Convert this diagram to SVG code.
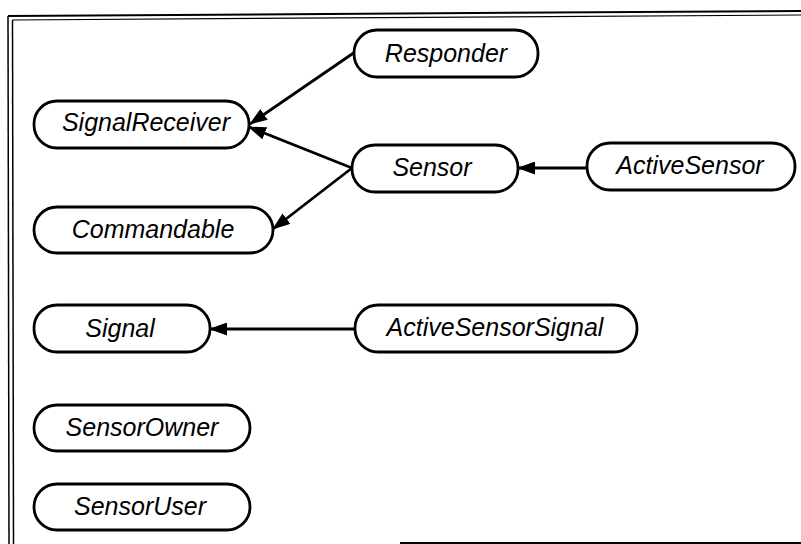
<svg xmlns="http://www.w3.org/2000/svg" width="801" height="544" viewBox="0 0 801 544">
<style>
.n{fill:#fff;stroke:#000;stroke-width:2.8}
.t{font-family:"Liberation Sans",Arial,sans-serif;font-style:italic;font-size:25px;fill:#000;text-anchor:middle}
.c{stroke:#000;stroke-width:2.8;fill:none}
.f{stroke:#000;fill:none}
</style>
<defs>
<marker id="a" viewBox="0 0 18 13" refX="17" refY="6.5" markerWidth="18" markerHeight="13" markerUnits="userSpaceOnUse" orient="auto">
<path d="M0,0 L18,6.5 L0,13 Z" fill="#000"/>
</marker>
</defs>
<rect width="801" height="544" fill="#fff"/>
<g id="frame">
<path class="f" stroke-width="2" d="M8,16 L801,11"/>
<path class="f" stroke-width="1.2" d="M12.5,20 L801,15"/>
<path class="f" stroke-width="1.5" d="M8,16 L9,544"/>
<path class="f" stroke-width="1.5" d="M12.5,20 L13.5,544"/>
<path class="f" stroke-width="2" d="M400,543 L801,543"/>
</g>
<g id="connectors">
<path class="c" marker-end="url(#a)" d="M355,52 L250,124"/>
<path class="c" marker-end="url(#a)" d="M352,168 L249,127"/>
<path class="c" marker-end="url(#a)" d="M352,168 L273,229"/>
<path class="c" marker-end="url(#a)" d="M587,168 L518,168"/>
<path class="c" marker-end="url(#a)" d="M355,329 L210,329"/>
</g>
<g id="Responder"><rect class="n" x="354" y="30" width="184" height="47" rx="23"/><text class="t" x="446" y="62">Responder</text></g>
<g id="SignalReceiver"><rect class="n" x="34" y="101" width="215" height="47" rx="23"/><text class="t" x="146" y="131">SignalReceiver</text></g>
<g id="Sensor"><rect class="n" x="352" y="145" width="166" height="47" rx="23"/><text class="t" x="432" y="176">Sensor</text></g>
<g id="ActiveSensor"><rect class="n" x="587" y="143" width="208" height="47" rx="23"/><text class="t" x="690" y="174">ActiveSensor</text></g>
<g id="Commandable"><rect class="n" x="34" y="207" width="239" height="46" rx="23"/><text class="t" x="153" y="238">Commandable</text></g>
<g id="Signal"><rect class="n" x="34" y="305" width="176" height="47" rx="23"/><text class="t" x="120" y="337">Signal</text></g>
<g id="ActiveSensorSignal"><rect class="n" x="355" y="305" width="282" height="47" rx="23"/><text class="t" x="495" y="336">ActiveSensorSignal</text></g>
<g id="SensorOwner"><rect class="n" x="34" y="405" width="216" height="46" rx="23"/><text class="t" x="142" y="436">SensorOwner</text></g>
<g id="SensorUser"><rect class="n" x="34" y="484" width="216" height="46" rx="23"/><text class="t" x="140" y="515">SensorUser</text></g>
</svg>
